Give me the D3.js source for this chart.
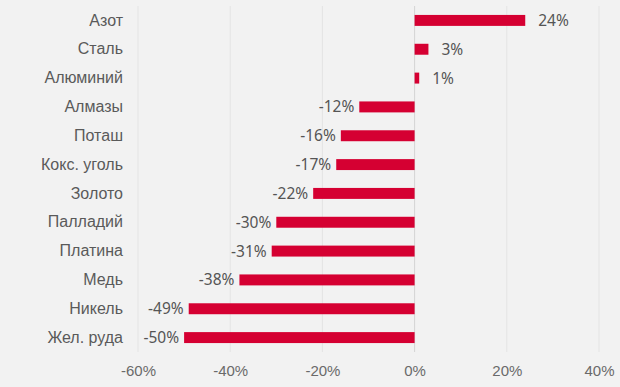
<!DOCTYPE html>
<html>
<head>
<meta charset="utf-8">
<script src="https://cdn.jsdelivr.net/npm/d3@7"></script>
<style>
  body { margin: 0; background: #f2f2f2; }
  svg { display: block; font-family: "Noto Sans", "Open Sans", sans-serif; }
  .tick line, .domain { display: none; }
</style>
</head>
<body>
<svg id="chart" width="620" height="387"></svg>
<script>
var categories = ["Азот", "Сталь", "Алюминий", "Алмазы", "Поташ", "Кокс. уголь",
  "Золото", "Палладий", "Платина", "Медь", "Никель", "Жел. руда"];
var values = [24, 3, 1, -12, -16, -17, -22, -30, -31, -38, -49, -50];
var xTicks = [-60, -40, -20, 0, 20, 40];

var svg = d3.select("#chart"),
  margin = {top: 6, right: 20, bottom: 35, left: 138},
  width = +svg.attr("width") - margin.left - margin.right,
  height = +svg.attr("height") - margin.top - margin.bottom,
  g = svg.append("g").attr("transform", "translate(" + margin.left + "," + margin.top + ")");

var x = d3.scaleLinear().domain([-60, 40]).range([0, 461]);
var y = d3.scaleBand().domain(categories).range([0, height]).paddingInner(0.62).paddingOuter(0.31);

// grid
g.selectAll(".grid").data(xTicks).enter().append("line")
  .attr("x1", d => x(d)).attr("x2", d => x(d))
  .attr("y1", 0).attr("y2", height)
  .attr("stroke", d => d === 0 ? "#d4d4d4" : "#e4e4e4")
  .attr("stroke-width", 1);

// x axis
g.append("g")
  .attr("transform", "translate(0," + height + ")")
  .call(d3.axisBottom(x).tickValues(xTicks).tickFormat(d => d + "%").tickSize(0).tickPadding(13))
  .call(a => a.selectAll("text").attr("fill", "#6a6a6a").style("font-size", "15px"));

// y labels
g.append("g")
  .call(d3.axisLeft(y).tickSize(0).tickPadding(15))
  .call(a => a.selectAll("text").attr("fill", "#5a5a5a").style("font-size", "16px"));

// bars
g.selectAll(".bar").data(values).enter().append("rect")
  .attr("x", d => x(Math.min(0, d)))
  .attr("y", (d, i) => y(categories[i]))
  .attr("width", d => Math.abs(x(d) - x(0)))
  .attr("height", y.bandwidth())
  .attr("fill", "#d50032");

// value labels
g.selectAll(".val").data(values).enter().append("text")
  .attr("x", d => d >= 0 ? x(d) + 13 : x(d) - 5)
  .attr("y", (d, i) => y(categories[i]) + y.bandwidth() / 2)
  .attr("dy", "0.35em")
  .attr("text-anchor", d => d >= 0 ? "start" : "end")
  .attr("fill", "#555")
  .style("font-size", "15.5px")
  .text(d => d + "%");
</script>
</body>
</html>
